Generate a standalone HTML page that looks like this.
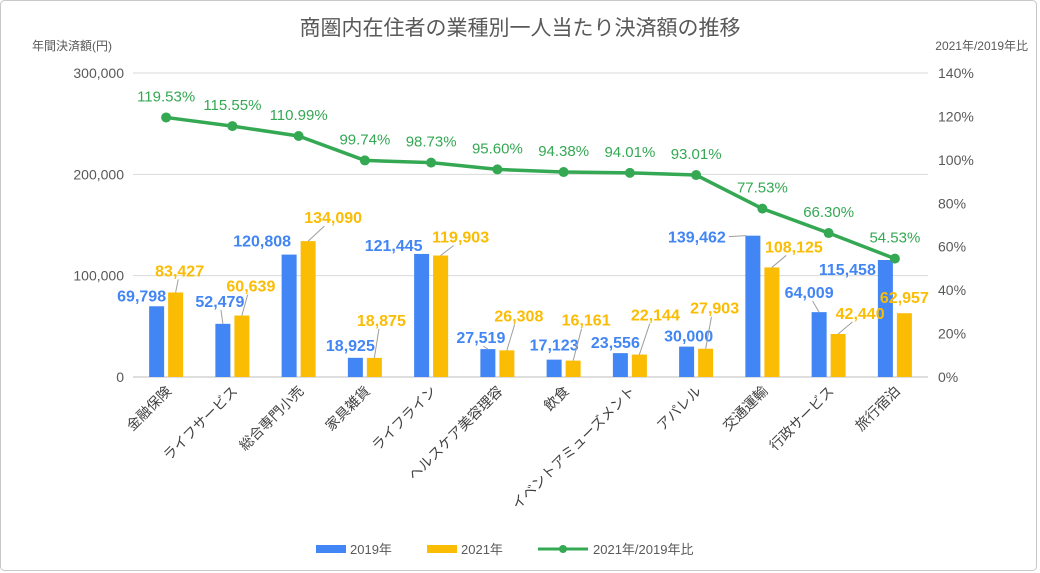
<!DOCTYPE html>
<html><head><meta charset="utf-8">
<style>
body{margin:0;background:#fff;}
svg{display:block;font-family:"Liberation Sans","Noto Sans CJK JP",sans-serif;}
</style></head>
<body>
<svg id="c" width="1040" height="573">
<rect x="0.5" y="0.5" width="1036" height="570" rx="4" fill="#fff" stroke="#c8c8c8"/>
<text x="520" y="35" text-anchor="middle" font-size="21" fill="#595959">商圏内在住者の業種別一人当たり決済額の推移</text>
<text x="32" y="50" font-size="12" fill="#595959">年間決済額(円)</text>
<text x="1028" y="50" text-anchor="end" font-size="12" fill="#595959">2021年/2019年比</text>
<g id="grid"></g><g id="bars"></g><g id="line"></g><g id="labels"></g><g id="xl"></g>
<g>
<rect x="316" y="545" width="30" height="8" fill="#4285f4"/>
<text x="350" y="554" font-size="13" fill="#595959">2019年</text>
<rect x="427" y="545" width="30" height="8" fill="#fbbc04"/>
<text x="461" y="554" font-size="13" fill="#595959">2021年</text>
<line x1="538" y1="549" x2="588" y2="549" stroke="#34a853" stroke-width="3"/>
<circle cx="563" cy="549" r="4" fill="#34a853"/>
<text x="593" y="554" font-size="13" fill="#595959">2021年/2019年比</text>
</g>
</svg>
<script>
const categories=["金融保険","ライフサービス","総合専門小売","家具雑貨","ライフライン","ヘルスケア美容理容","飲食","イベントアミューズメント","アパレル","交通運輸","行政サービス","旅行宿泊"];
const v2019=[69798,52479,120808,18925,121445,27519,17123,23556,30000,139462,64009,115458];
const v2021=[83427,60639,134090,18875,119903,26308,16161,22144,27903,108125,42440,62957];
const ratio=[119.53,115.55,110.99,99.74,98.73,95.60,94.38,94.01,93.01,77.53,66.30,54.53];
const yTicks=[0,100000,200000,300000];
const y2Ticks=[0,20,40,60,80,100,120,140];
// label offsets (styling): [dx,dy] of label center relative to bar top center
const offB=[[-15,-11],[-3,-23],[-27,-14],[-5,-13],[-28,-9],[-7,-12],[0,-15],[-5,-11],[2,-11],[-56,1],[-10,-20],[-38,9]];
const offO=[[4,-22],[9,-30],[25,-24],[7,-38],[20,-19],[12,-35],[13,-41],[16,-40],[9,-41],[22,-21],[22,-21],[0,-16]];
const leadB=[0,1,0,0,0,1,0,0,0,1,1,0];
const leadO=[1,1,1,1,1,1,1,1,1,1,1,0];
const NS="http://www.w3.org/2000/svg";
const X0=133,X1=928,Y0=377,Y1=73;
const bw=(X1-X0)/categories.length;
const y=v=>Y0-(v/300000)*(Y0-Y1);
const y2=v=>Y0-(v/140)*(Y0-Y1);
const cx=i=>X0+bw*(i+0.5);
function mk(tag,attrs,parent,txt){const e=document.createElementNS(NS,tag);for(const k in attrs)e.setAttribute(k,attrs[k]);if(txt!==undefined)e.textContent=txt;document.getElementById(parent).appendChild(e);return e;}
yTicks.forEach(t=>{
 const l=mk("line",{x1:X0,x2:X1,y1:y(t),y2:y(t),stroke:t===0?"#bdbdbd":"#d9d9d9","stroke-width":1},"grid");
 
 
 const tx=mk("text",{x:124,y:y(t)+5,"text-anchor":"end","font-size":14,fill:"#595959"},"grid",t.toLocaleString("en-US"));
 
 
});
y2Ticks.forEach(t=>{
 const tx=mk("text",{x:938,y:y2(t)+5,"font-size":14,fill:"#595959"},"grid",t+"%");
 
 
});
categories.forEach((c,i)=>{
 const bx=cx(i)-17;
 const b1=mk("rect",{x:bx,y:y(v2019[i]),width:15,height:Y0-y(v2019[i]),fill:"#4285f4"},"bars");
 
 
 const b2=mk("rect",{x:bx+19,y:y(v2021[i]),width:15,height:Y0-y(v2021[i]),fill:"#fbbc04"},"bars");
 
 
 [[v2019[i],bx+7.5,offB[i],"#4285f4",leadB[i]],[v2021[i],bx+26.5,offO[i],"#fbbc04",leadO[i]]].forEach(([v,bcx,o,col,lead])=>{
  const lx=bcx+o[0],ly=y(v)+o[1];
  if(lead){
   let ex,ey;
   if(Math.abs(o[1])<12){ex=lx+Math.sign(o[0])*-32;ey=ly;}
   else{ex=lx-o[0]*0.35;ey=ly+9;}
   const ld=mk("line",{x1:bcx+(Math.abs(o[1])<12?-7*Math.sign(o[0])*-1:0),y1:y(v),x2:ex,y2:ey,stroke:"#9e9e9e","stroke-width":1},"labels");
   
   
  }
  const t=mk("text",{x:lx,y:ly+6,"text-anchor":"middle","font-size":16,"font-weight":"bold",fill:col},"labels",v.toLocaleString("en-US"));
  
  
 });
 const xt=mk("text",{x:cx(i)+6,y:392,"text-anchor":"end","font-size":14,fill:"#404040",transform:`rotate(-45 ${cx(i)+6} 392)`},"xl",c);
 
 
});
const pl=mk("polyline",{points:ratio.map((r,i)=>cx(i)+","+y2(r)).join(" "),fill:"none",stroke:"#34a853","stroke-width":3.5,"stroke-linejoin":"round"},"line");


ratio.forEach((r,i)=>{
 const p=mk("circle",{cx:cx(i),cy:y2(r),r:5,fill:"#34a853"},"line");
 
 
 const t=mk("text",{x:cx(i),y:y2(r)-16,"text-anchor":"middle","font-size":15,fill:"#34a853"},"line",r.toFixed(2)+"%");
 
 
});
</script>
</body></html>
